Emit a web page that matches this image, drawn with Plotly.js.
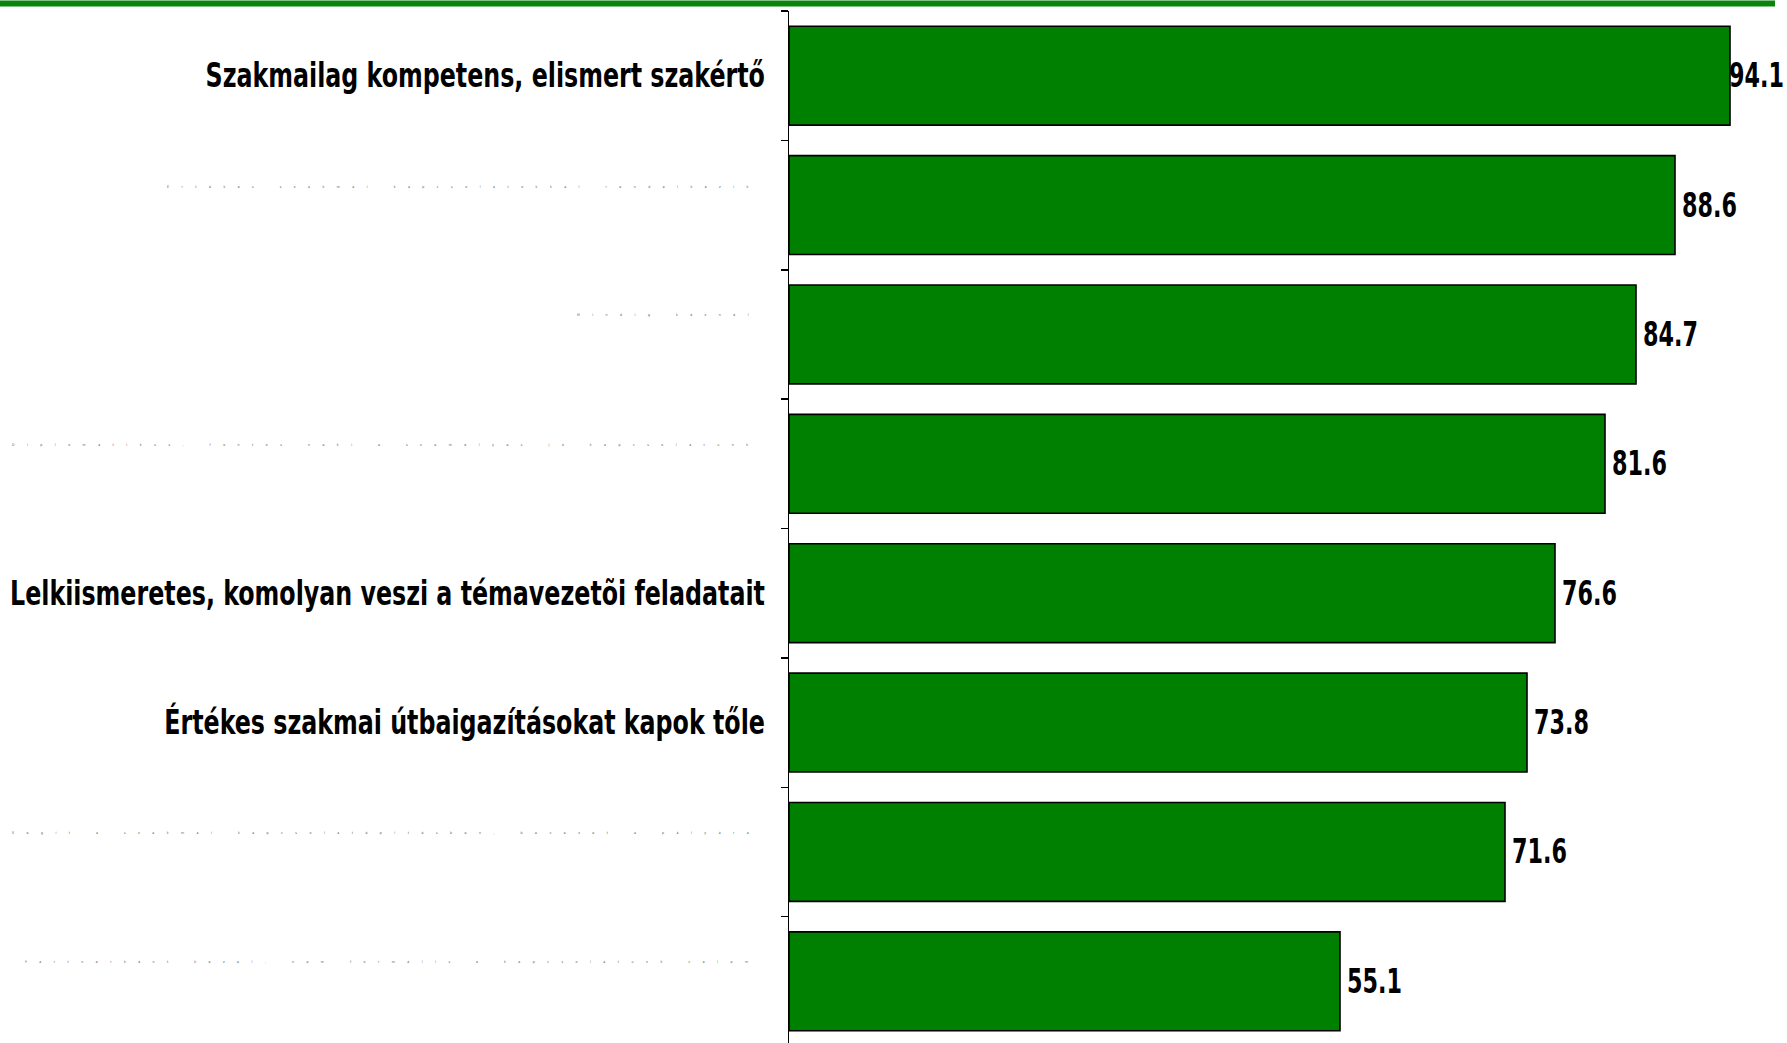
<!DOCTYPE html>
<html>
<head>
<meta charset="utf-8">
<script src="https://cdn.plot.ly/plotly-3.0.1.min.js"></script>
<style>
html,body{margin:0;padding:0;overflow:hidden;background:#fff;}
#chart{width:1787px;height:1046px;}
</style>
</head>
<body>
<div id="chart"></div>
<script>
// Data
var categories = [
  "Szakmailag kompetens, elismert szakértő",
  "Értékes szakmai kapcsolatokkal rendelkezik",
  "Mindig kéznél",
  "Diplomatikus, fontos neki a személyes jó kapcsolatunk",
  "Lelkiismeretes, komolyan veszi a témavezetõi feladatait",
  "Értékes szakmai útbaigazításokat kapok tőle",
  "Segít a szakmai kapcsolatépítésben, bevezet a pályára",
  "Partnerként kezel, nem formális a kapcsolatunk velem"
];
var values = [94.1, 88.6, 84.7, 81.6, 76.6, 73.8, 71.6, 55.1];
// which labels are printed legibly (the rest appear as faint dotted text)
var legible = [true, false, false, false, true, true, false, false];

var FONT = "'Liberation Sans Narrow', 'Arial Narrow', 'DejaVu Sans Condensed', 'DejaVu Sans', sans-serif";
var LABEL_SCALE = 0.80;   // narrow the condensed face to match the narrow original
var VALUE_SCALE = 0.75;

var tickText = categories.map(function(c, i){ return legible[i] ? "<b>" + c + "</b>" : ""; });

var annotations = [];
values.forEach(function(v, i){
  annotations.push({
    x: v, y: categories[i], xref: 'x', yref: 'y',
    text: "<b>" + v.toFixed(1) + "</b>",
    showarrow: false, xanchor: 'left', yanchor: 'middle', xshift: 5,
    font: {family: FONT, size: 33, color: '#000'}
  });
});
categories.forEach(function(c, i){
  if (legible[i]) return;
  annotations.push({
    x: -0.026, y: c, xref: 'paper', yref: 'y',
    text: '<span style="letter-spacing:12.5px">' + c + '</span>',
    showarrow: false, xanchor: 'right', yanchor: 'middle', yshift: 19,
    font: {family: FONT, size: 3.5, color: '#555'}
  });
});

var trace = {
  type: 'bar',
  orientation: 'h',
  x: values,
  y: categories,
  marker: {color: '#008000', line: {color: '#000', width: 1.6}},
  hoverinfo: 'x+y'
};

var layout = {
  width: 1787, height: 1046,
  margin: {l: 789, r: 0, t: 11, b: 0, pad: 0},
  paper_bgcolor: '#fff', plot_bgcolor: '#fff',
  bargap: 0.235,
  showlegend: false,
  xaxis: {
    range: [0, 99.8], visible: false, fixedrange: true
  },
  yaxis: {
    type: 'category',
    autorange: 'reversed',
    tickmode: 'array',
    tickvals: categories,
    ticktext: tickText,
    tickson: 'boundaries',
    ticks: 'outside', ticklen: 7, tickwidth: 1.5, tickcolor: '#000',
    showline: true, linecolor: '#000', linewidth: 1.5,
    showgrid: false, zeroline: false,
    ticklabelstandoff: 16,
    tickfont: {family: FONT, size: 33, color: '#000'},
    fixedrange: true
  },
  annotations: annotations,
  shapes: [{
    type: 'line', xref: 'paper', yref: 'paper',
    x0: -789/998, x1: (1775-789)/998,
    y0: 1 + 7.5/1035, y1: 1 + 7.5/1035,
    line: {color: '#0b840b', width: 6}
  }]
};

function squeeze(el, s, pivotRight) {
  var bb = el.getBBox();
  var px = pivotRight ? bb.x + bb.width : bb.x;
  var tr = el.getAttribute('transform') || '';
  el.setAttribute('transform', tr + ' translate(' + px + ',0) scale(' + s + ',1) translate(' + (-px) + ',0)');
}

var gd = document.getElementById('chart');
Plotly.newPlot(gd, [trace], layout, {displayModeBar: false, staticPlot: true}).then(function(){
  gd.querySelectorAll('.ytick text').forEach(function(t){ squeeze(t, LABEL_SCALE, true); });
  var anns = gd.querySelectorAll('.annotation');
  for (var i = 0; i < values.length; i++) {
    var t = anns[i].querySelector('text');
    if (!t) continue;
    squeeze(t, VALUE_SCALE, false);
    // keep labels inside the figure, as in the original
    var r = t.getBoundingClientRect();
    var over = r.right - 1784;
    if (over > 0) {
      var tr = t.getAttribute('transform') || '';
      t.setAttribute('transform', 'translate(' + (-over) + ',0) ' + tr);
    }
  }
});
</script>
</body>
</html>
